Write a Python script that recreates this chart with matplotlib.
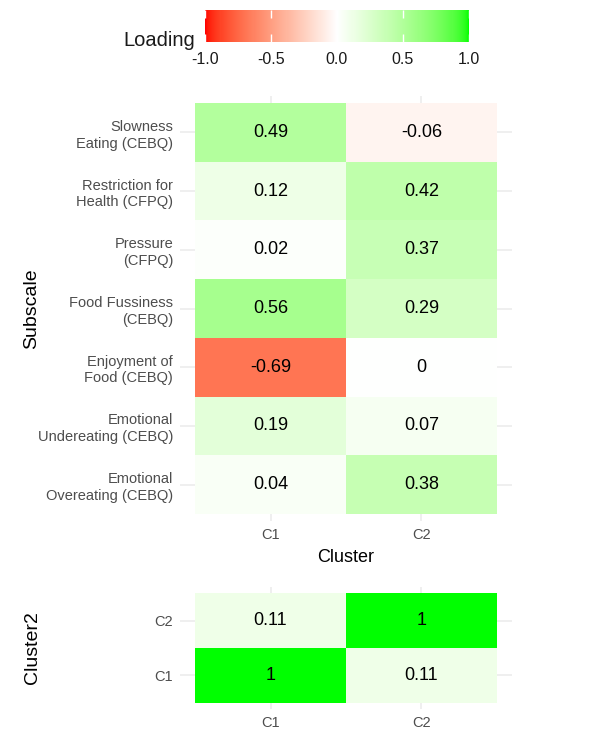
import numpy as np
import matplotlib
matplotlib.use("Agg")
import matplotlib.pyplot as plt
from matplotlib.colors import ListedColormap, Normalize

plt.rcParams['font.family'] = ['Liberation Sans', 'DejaVu Sans']

# data
subscales = ["Slowness\nEating (CEBQ)", "Restriction for\nHealth (CFPQ)", "Pressure\n(CFPQ)",
             "Food Fussiness\n(CEBQ)", "Enjoyment of\nFood (CEBQ)", "Emotional\nUndereating (CEBQ)",
             "Emotional\nOvereating (CEBQ)"]
clusters = ["C1", "C2"]
loading_c1 = [0.49, 0.12, 0.02, 0.56, -0.69, 0.19, 0.04]
loading_c2 = [-0.06, 0.42, 0.37, 0.29, 0.0, 0.07, 0.38]
cluster_corr_c1 = [1.0, 0.11]   # rows C1, C2
cluster_corr_c2 = [0.11, 1.0]
cbar_ticks = [-1.0, -0.5, 0.0, 0.5, 1.0]


# red - white - green gradient interpolated in CIELAB (like scale_fill_gradient2)
def srgb_to_lab(c):
    c = np.asarray(c, float)
    lin = np.where(c <= 0.04045, c / 12.92, ((c + 0.055) / 1.055) ** 2.4)
    M = np.array([[0.4124, 0.3576, 0.1805], [0.2126, 0.7152, 0.0722], [0.0193, 0.1192, 0.9505]])
    xyz = M @ lin / np.array([0.95047, 1.0, 1.08883])
    f = np.where(xyz > 0.008856, np.cbrt(xyz), 7.787 * xyz + 16 / 116)
    return np.array([116 * f[1] - 16, 500 * (f[0] - f[1]), 200 * (f[1] - f[2])])


def lab_to_srgb(lab):
    L, a, b = lab
    fy = (L + 16) / 116
    fx = fy + a / 500
    fz = fy - b / 200
    f = np.array([fx, fy, fz])
    xyz = np.where(f ** 3 > 0.008856, f ** 3, (f - 16 / 116) / 7.787) * np.array([0.95047, 1.0, 1.08883])
    Minv = np.array([[3.2406, -1.5372, -0.4986], [-0.9689, 1.8758, 0.0415], [0.0557, -0.2040, 1.0570]])
    lin = np.clip(Minv @ xyz, 0, 1)
    c = np.where(lin <= 0.0031308, 12.92 * lin, 1.055 * lin ** (1 / 2.4) - 0.055)
    return np.clip(c, 0, 1)


lab_lo = srgb_to_lab([1, 0, 0])
lab_mid = srgb_to_lab([1, 1, 1])
lab_hi = srgb_to_lab([0, 1, 0])
cols = []
for t in np.linspace(-1, 1, 256):
    if t < 0:
        lab = lab_mid + (-t) * (lab_lo - lab_mid)
    else:
        lab = lab_mid + t * (lab_hi - lab_mid)
    cols.append(lab_to_srgb(lab))
cmap = ListedColormap(cols)
norm = Normalize(-1, 1)

W, H = 590, 730
fig = plt.figure(figsize=(5.9, 7.3), dpi=100)


def px_axes(x0, y0, x1, y1):
    return fig.add_axes([x0 / W, 1 - y1 / H, (x1 - x0) / W, (y1 - y0) / H])


def style_panel(ax):
    for s in ax.spines.values():
        s.set_visible(False)
    ax.set_axisbelow(True)
    ax.grid(True, color='#EBEBEB', linewidth=1.1)
    ax.tick_params(length=0, labelcolor='#4D4D4D', labelsize=10.5, pad=5)


# main heatmap
ax = px_axes(180, 96, 512, 521)
mat = np.array([loading_c1, loading_c2]).T[::-1]
mesh = ax.pcolormesh(np.arange(-0.5, 2, 1), np.arange(-0.5, 7, 1), mat, cmap=cmap, norm=norm, zorder=2)
for i in range(mat.shape[0]):
    for j in range(mat.shape[1]):
        ax.text(j, i, f"{mat[i, j]:g}", ha='center', va='center', fontsize=13, color='black', zorder=3)
ax.set_xlim(-0.6, 1.6)
ax.set_ylim(-0.62, 6.62)
ax.set_xticks(range(2))
ax.set_xticklabels(clusters)
ax.set_yticks(range(7))
ax.set_yticklabels(subscales[::-1], linespacing=1.25)
style_panel(ax)
ax.set_xlabel("Cluster", fontsize=13, labelpad=5)
ax.set_ylabel("Subscale", fontsize=14, labelpad=8)

# cluster correlation heatmap
ax2 = px_axes(180, 587, 512, 709)
mat2 = np.array([cluster_corr_c1, cluster_corr_c2])
ax2.pcolormesh(np.arange(-0.5, 2, 1), np.arange(-0.5, 2, 1), mat2, cmap=cmap, norm=norm, zorder=2)
for i in range(2):
    for j in range(2):
        ax2.text(j, i, f"{mat2[i, j]:g}", ha='center', va='center', fontsize=13, color='black', zorder=3)
ax2.set_xlim(-0.6, 1.6)
ax2.set_ylim(-0.61, 1.61)
ax2.set_xticks(range(2))
ax2.set_xticklabels(clusters)
ax2.set_yticks(range(2))
ax2.set_yticklabels(clusters)
style_panel(ax2)
ax2.set_ylabel("Cluster2", fontsize=14, labelpad=8)
ax2.yaxis.set_label_coords(-0.42, 0.5)
ax.yaxis.set_label_coords(-0.42, 0.5)

# colorbar legend
cax = px_axes(205, 10, 469, 42)
cb = fig.colorbar(mesh, cax=cax, orientation='horizontal')
cb.outline.set_visible(False)
cb.set_ticks(cbar_ticks)
cb.set_ticklabels([f"{t:.1f}" for t in cbar_ticks])
cax.tick_params(axis='x', direction='in', color='white', length=6, width=1,
                top=True, bottom=True, labelsize=11.5, labelcolor='#1A1A1A', pad=7.5)
fig.text(195 / W, 1 - 40 / H, "Loading", ha='right', va='center', fontsize=14.5, color='#1A1A1A')

fig.savefig("out.png", dpi=100, facecolor='white')
